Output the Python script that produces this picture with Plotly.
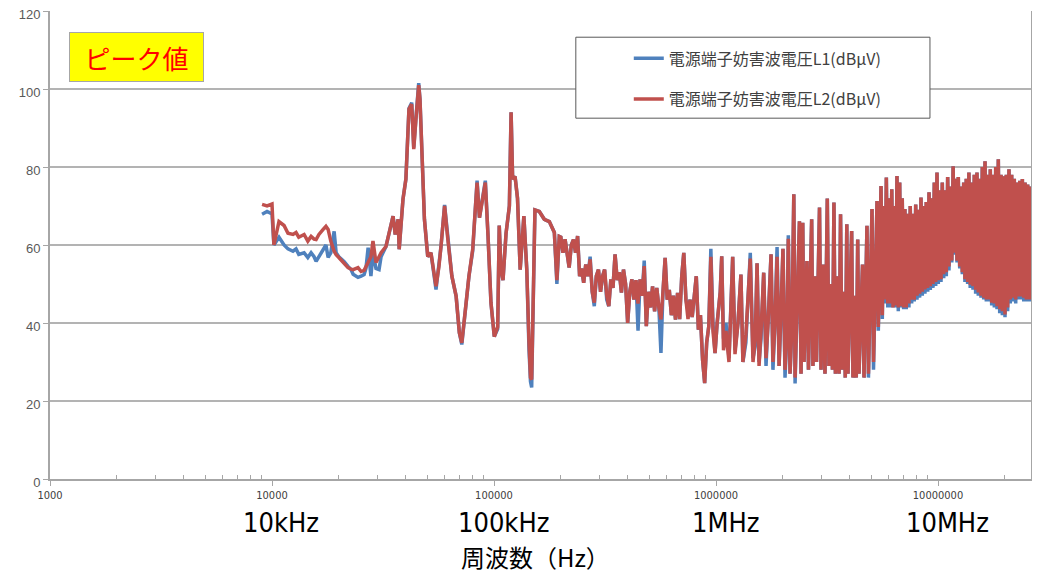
import numpy as np
import plotly.graph_objects as go

# Frequency of each sample (kHz) and the two measured traces (dBuV)
freq_khz = [
    9.02, 9.50, 10.0, 10.2, 10.75, 11.33, 11.8, 12.43, 12.83, 13.2,
    13.95, 14.5, 15.0, 15.47, 15.8, 16.27, 17.0, 17.5, 17.9, 18.4,
    19.05, 19.45, 20.0, 21.1, 22.0, 22.7, 23.2, 24.4, 25.2, 26.0,
    26.5, 27.1, 27.9, 28.5, 29.4, 30.35, 31.0, 32.6, 34.0, 35.1,
    35.9, 37.0, 37.4, 38.9, 40.1,
    41.4, 42.6, 43.5, 44.5, 45.8, 46.4, 47.7, 48.6, 50.3, 52.0,
    54.8, 56.5, 57.7, 59.9, 61.8, 64.6, 67.5, 69.8, 71.6, 73.1,
    74.9, 77.1, 80.2, 82.1, 83.9, 86.0, 88.9, 91.4, 94.0, 96.9,
    100.3, 103.9, 105.6, 107.5, 109.8, 113.3, 117.3, 119.4, 121.3, 124.4,
    127.6, 131.2, 136.3, 140.5, 143.8, 146.0, 147.8, 150.8, 152.9, 160.0,
    168.5, 177.5, 187.0, 192.0, 196.8,
    200, 204.5, 209, 213.5, 218, 223, 228, 233, 238, 243,
    248, 253.5, 259, 265, 271, 277, 283, 289, 295.5, 302,
    308.5, 315, 322, 329, 336, 343.5, 351, 359, 367, 375,
    383, 391.5, 400, 409, 418, 427, 436, 445.5, 455, 465,
    475, 485.5, 496, 507, 518, 529, 541, 553, 565, 577,
    590, 603, 616, 629.5, 643, 657, 671.5, 686, 701, 716,
    732, 748, 764, 781, 798, 815, 833, 851, 870, 889,
    908, 928, 948, 969, 990, 1012,
    1045, 1061, 1081, 1109, 1144, 1189, 1218, 1256, 1295, 1322,
    1363, 1427, 1468, 1502, 1531, 1563, 1595, 1640, 1680, 1717,
    1770, 1805, 1843, 1884, 1924, 1963, 2003, 2046, 2090, 2117,
    2155, 2200, 2241, 2271, 2318, 2376, 2416, 2459, 2492, 2530,
    2569, 2609, 2650, 2697, 2733, 2789, 2836, 2881, 2926, 2972,
    3035, 3097, 3172, 3228, 3295, 3346, 3398, 3451, 3524, 3584,
    3639, 3695, 3773, 3822, 3883, 3932, 4014, 4084, 4139, 4226,
    4284, 4348, 4407, 4499, 4571, 4642, 4713, 4787, 4861, 4941,
    5043, 5123, 5203, 5313, 5385, 5464, 5538, 5613, 5698, 5774,
    5852, 5938, 6020, 6097, 6190, 6271, 6356, 6449, 6535, 6624,
    6721, 6810, 6902, 7000, 7094, 7196, 7296, 7396, 7499, 7610,
    7715, 7820, 7935, 8042, 8152, 8270, 8383, 8496, 8616, 8733,
    8853, 8990, 9113, 9235, 9369, 9496, 9624, 9765, 9897, 10031,
    10178, 10316, 10456, 10609, 10754, 10900, 11055, 11206, 11368, 11540,
    11698, 11858, 12013, 12179, 12343, 12524, 12693, 12866, 13052, 13224,
    13404, 13597, 13780, 13967, 14170, 14375, 14569, 14775, 14982, 15184,
    15404, 15620, 15833, 16063, 16285, 16506, 16739, 16968, 17202, 17452,
    17694, 17937, 18196, 18441, 18694, 18965, 19225, 19490, 19767, 20036,
    20307, 20599, 20880, 21163, 21473, 21766, 22063, 22389, 22707, 23017,
    23349, 23667, 23989, 24337, 24669, 24989, 25354, 25700, 26049, 26428,
    26785, 27150, 27548, 27920, 28301, 28714,
]

l1_dbuv = [
    67.9, 68.6, 68, 60, 62, 60, 59, 58.4, 59, 57.6,
    58, 56.8, 58, 57, 55.8, 57, 58.4, 60, 56.8, 58,
    63.5, 58, 57, 55.8, 54.5, 53.7, 52.5, 51.7, 52, 52.4,
    54, 59.3, 52, 58, 54, 53.7, 57, 59.6, 64, 67.4,
    62.7, 66.6, 58.9, 71.7, 76.9,
    95, 96.5, 85, 92.5, 101.5, 97.4, 76.9, 66.6, 57, 58,
    48.6, 54.5, 59.6, 70.3, 62, 52, 46.9, 37.5, 34.5, 39,
    45.2, 52, 58.5, 68, 76.5, 67, 72.5, 76.5, 62.3, 45.2,
    36.5, 38.5, 65, 53.7, 51, 63, 70, 94, 76.9, 77.6,
    72, 53.7, 67.4, 53.7, 33, 25, 23.5, 50, 69, 68.6,
    66.6, 66, 63.2, 50, 62.2,
    62, 58, 61.5, 57, 54.2, 60, 61.4, 58, 62.3, 52,
    54, 50.3, 55, 52, 57, 48, 44.3, 52, 53.7, 48,
    52, 53.7, 46, 44.3, 51.2, 49, 57.6, 51, 53, 47.8,
    53.7, 50, 40, 48, 51.2, 46, 51, 38, 51.2, 47,
    56, 39.2, 48, 44, 49.4, 43, 49, 44, 32.3, 48,
    56.7, 46, 48.5, 42, 47, 40.9, 47.7, 41, 52, 58,
    46, 43, 46, 41.5, 47, 52, 38.3, 42, 30.6, 24.6,
    35, 39.2, 59, 40, 32.3, 40,
    48, 57.1, 36, 40, 31, 57, 33, 40, 52.4, 30,
    35, 58, 31, 34, 55.3, 30, 36, 52.9, 29, 40,
    57.6, 28, 40, 59.5, 29, 42, 59, 26, 38, 62.5,
    27, 40, 73, 24.5, 45, 66.1, 27, 65.7, 30, 48,
    55.9, 28, 50, 66.6, 29, 52, 30, 48, 69.6, 28,
    55, 27, 71.9, 29, 50, 28, 70.9, 27, 52, 27,
    67.9, 28, 48, 26, 65.3, 27, 50, 63.6, 26, 47,
    26, 61.4, 27, 45, 55, 26, 48, 64.9, 26, 50,
    69.2, 28, 45, 71.3, 38, 60, 75.1, 41, 70, 45,
    77.3, 44, 72, 44, 74.3, 44, 70, 44, 77.7, 43,
    76, 44, 72, 43.5, 69.2, 43.5, 68, 44, 70, 45,
    68, 45.5, 70.4, 46, 69, 46.5, 72.2, 47, 70, 47.5,
    71, 48, 73.5, 48.5, 72, 49, 76, 49.5, 78.6, 50,
    74, 50.5, 76, 51.5, 74, 52, 77.4, 53.5, 75, 55.5,
    80.2, 57.5, 77, 55.5, 77.4, 54, 75, 52.5, 76, 50.5,
    77, 50, 78.6, 49, 76, 48.5, 78, 47.5, 78.6, 47,
    77, 46.5, 80, 46, 81.5, 45.5, 78, 45.5, 79.4, 44.5,
    78, 44, 80, 43.5, 82, 42.5, 78, 42, 77.6, 41.5,
    78, 43, 79.4, 45, 78, 45.5, 77, 45, 76, 46,
    76.5, 46, 76.9, 45.5, 76, 45.5, 75.5, 45.5, 75, 45.5,
    74.5, 45, 75, 46, 74.8, 46,
]

l2_dbuv = [
    70.4, 70.0, 70.5, 60.0, 66, 65, 63, 62.7, 63.2, 62,
    62.7, 61, 62.2, 61.5, 61.4, 62.7, 64, 64.8, 64, 61,
    58.4, 57.5, 56.8, 55.5, 54.2, 53.8, 53.7, 54.2, 53.2, 53.5,
    54.5, 55.5, 57, 61, 55.5, 57, 58, 59.6, 64, 67.4,
    62.7, 66.6, 58.9, 71.7, 76.9,
    94.9, 96.1, 84.6, 92.3, 101, 97.4, 76.9, 66.6, 57, 58,
    49.4, 54.5, 59.6, 70, 62, 52, 46.9, 37.5, 34.9, 39,
    45.2, 52, 59, 68, 76, 67, 72.5, 76, 62.3, 45.2,
    36.5, 39, 65, 53.7, 51, 63, 70, 94, 76.9, 77.6,
    72, 53.7, 67.4, 53.7, 35, 26, 25.5, 50.3, 69, 68.6,
    66.6, 66, 63.2, 51, 62.2,
    62, 58, 61.5, 57, 54.2, 60, 61.4, 58, 62.3, 52,
    54, 50.3, 55, 52, 56.3, 48, 45.2, 52, 53.7, 48,
    52, 53.7, 47, 44.3, 51.2, 49, 57.6, 51, 53, 47.8,
    53.7, 50, 40, 48, 51.2, 46, 51, 45, 51.2, 47,
    54.6, 39.2, 48, 44, 49.4, 43, 49, 44, 40.9, 48,
    56.7, 46, 48.5, 42, 47, 40.9, 47.7, 41, 52, 58,
    46, 41, 46, 41.5, 47, 52, 38.3, 42, 30.6, 24.6,
    35, 39.2, 57, 38, 32.3, 40,
    48, 57.1, 33, 38, 30, 57, 32, 40, 52.4, 30,
    37, 56.5, 30, 36, 55.3, 29, 38, 52.9, 31, 40,
    57.6, 30, 40, 57, 29, 42, 59, 28, 38, 61.6,
    27, 40, 73, 26, 45, 66.1, 27, 65.7, 30, 48,
    55.9, 28, 50, 66.6, 29, 52, 30, 48, 69.6, 28,
    55, 27, 71.9, 29, 50, 28, 70.9, 27, 52, 27,
    67.9, 28, 48, 26, 65.3, 27, 50, 63.6, 26, 47,
    26, 61.4, 27, 45, 55, 26, 48, 64.9, 27, 50,
    69.2, 30, 45, 71.3, 39, 60, 75.1, 42, 70, 46,
    77.3, 45, 72, 45, 74.3, 44, 70, 44.5, 77.7, 44,
    76, 44.3, 72, 44, 69.2, 44, 68, 45, 70, 46,
    68, 46, 70.4, 47, 69, 47.5, 72.2, 48, 70, 48.6,
    71, 49, 73.5, 49.4, 72, 50, 76, 50.5, 78.6, 51,
    74, 51.2, 76, 52.5, 74, 53, 77.4, 54.5, 75, 56,
    80.2, 58, 77, 56, 77.4, 54.5, 75, 53, 76, 51.2,
    77, 50.5, 78.6, 49.8, 76, 49.4, 78, 48.5, 78.6, 47.8,
    77, 47, 80, 46.5, 81.5, 46, 78, 46, 79.4, 45.2,
    78, 45, 80, 44.3, 82, 43.5, 78, 43, 77.6, 42.2,
    78, 44, 79.4, 46, 78, 46.5, 77, 46, 76, 46.8,
    76.5, 46.8, 76.9, 46.5, 76, 46, 75.5, 46, 75, 46,
    74.5, 46, 75, 46.5, 74.8, 47,
]

series_names = ["電源端子妨害波電圧L1(dBμV)", "電源端子妨害波電圧L2(dBμV)"]
series_colors = ["#4F81BD", "#C0504D"]

tick_hz = [1e3, 1e4, 1e5, 1e6, 1e7]
tick_text = ["1000", "10000", "100000", "1000000", "10000000"]
unit_hz = [1e4, 1e5, 1e6, 1e7]
unit_text = ["10kHz", "100kHz", "1MHz", "10MHz"]

assert len(freq_khz) == len(l1_dbuv) == len(l2_dbuv)
freq_hz = np.array(freq_khz) * 1000.0

# minor ticks 2..9 in each decade
minor_hz = [m * 10 ** d for d in range(3, 8) for m in range(2, 10) if m * 10 ** d < 2.6e7]

fig = go.Figure()
for name, vals, col in zip(series_names, [l1_dbuv, l2_dbuv], series_colors):
    fig.add_trace(go.Scatter(x=freq_hz, y=vals, mode='lines', name=name,
                             legendgroup=name,
                             line=dict(color=col, width=3.5)))

axis_grey = '#A6A6A6'
narrow = 'DejaVu Sans Condensed, Liberation Sans Narrow, Liberation Sans'
# the page body sits 8px in from the window edge; size the figure so nothing overflows
fig.update_layout(
    width=1024, height=566,
    margin=dict(l=42, r=1, t=3, b=95, autoexpand=False),
    paper_bgcolor='white', plot_bgcolor='white',
    showlegend=True,
    legend=dict(x=0.590, y=0.935, xanchor='left', yanchor='top',
                bgcolor='rgba(0,0,0,0)', traceorder='grouped', tracegroupgap=17,
                font=dict(family='Noto Sans CJK JP', size=16, color='#404040')),
    xaxis=dict(type='log', range=[3, 3 + 981 / 222],
               showgrid=False, zeroline=False,
               showline=True, linecolor=axis_grey, linewidth=2,
               ticks='outside', ticklen=5, tickcolor=axis_grey,
               tickvals=tick_hz, ticktext=tick_text,
               tickfont=dict(family=narrow, size=11, color='#404040'),
               minor=dict(tickvals=minor_hz, ticks='inside', ticklen=4, tickcolor=axis_grey, showgrid=False)),
    yaxis=dict(range=[0, 120], dtick=20,
               showgrid=True, gridcolor='#B3B3B3', gridwidth=1.5, zeroline=False,
               showline=True, linecolor=axis_grey, linewidth=2, mirror=True,
               ticks='outside', ticklen=5, tickcolor=axis_grey,
               ticklabeloverflow='allow', ticklabelshift=3,
               tickfont=dict(family='Liberation Sans', size=13, color='#595959')),
)

# legend frame
fig.add_shape(type='rect', xref='paper', yref='paper',
              x0=0.536, x1=0.897, y0=0.771, y1=0.944,
              line=dict(color='#595959', width=1), fillcolor='white', layer='above')

# "ピーク値" label
fig.add_annotation(xref='paper', yref='paper', x=0.0882, y=0.902,
                   xanchor='center', yanchor='middle',
                   text='ピーク値', showarrow=False, width=131, height=46,
                   bgcolor='#FFFF00', bordercolor='#A6A6A6', borderwidth=1,
                   font=dict(family='Noto Sans CJK JP', size=26, color='#FF0000'))

# large unit labels under the tick values
for hz, txt in zip(unit_hz, unit_text):
    fig.add_annotation(x=np.log10(hz), xref='x', yref='paper', y=-0.092,
                       xanchor='center', yanchor='middle',
                       text=txt, showarrow=False, xshift=9,
                       font=dict(family=narrow, size=27, color='#000000'))

# x axis title
fig.add_annotation(xref='paper', yref='paper', x=0.495, y=-0.166,
                   xanchor='center', yanchor='middle',
                   text='周波数（Hz）', showarrow=False,
                   font=dict(family='Noto Sans CJK JP', size=24, color='#000000'))

fig.write_html("out.html")
